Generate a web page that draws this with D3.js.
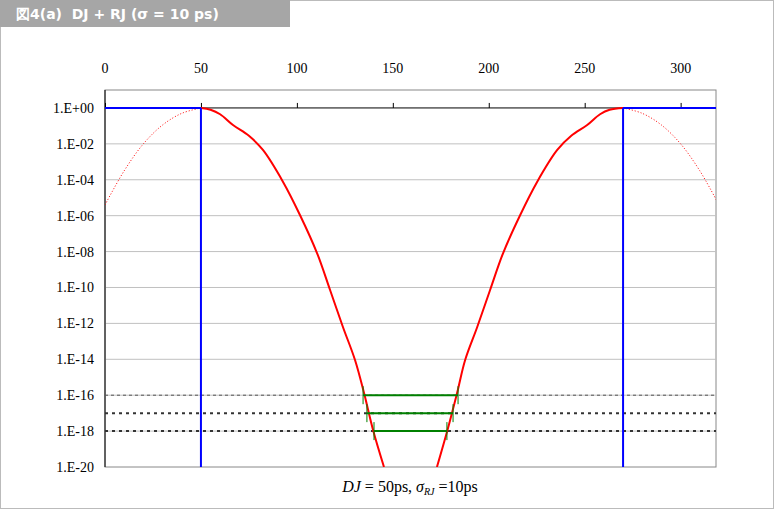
<!DOCTYPE html><html><head><meta charset="utf-8"><script src="https://cdn.jsdelivr.net/npm/d3@7"></script>
<style>body{margin:0;background:#fff}svg{display:block}</style></head><body><svg width="774" height="509"></svg>
<script>
const xTicks=[0,50,100,150,200,250,300];
const yTicks=[0,-2,-4,-6,-8,-10,-12,-14,-16,-18,-20];
const yLabels=["1.E+00","1.E-02","1.E-04","1.E-06","1.E-08","1.E-10","1.E-12","1.E-14","1.E-16","1.E-18","1.E-20"];
// log10(BER)
const leftDotX=[0,10,20,30,40,50], leftDotY=[-5.4,-3.5,-2.0,-0.95,-0.3,0];
const leftX=[50,55,60,66.7,75,82.3,92.8,101.6,110.5,117.3,124,130.3,135,139.7,145.4];
const leftY=[0,-0.1,-0.35,-0.95,-1.55,-2.34,-4.12,-5.96,-8.08,-10.14,-12.2,-14.04,-15.88,-17.94,-20];
const rightX=[173,178.5,183.5,187.7,194,200.7,207.5,216.4,225.2,235.7,243,251.3,258,263,270];
const rightY=[-20,-17.94,-15.88,-14.04,-12.2,-10.14,-8.08,-5.96,-4.12,-2.34,-1.55,-0.95,-0.35,-0.1,0];
const rightDotX=[270,280,290,300,310,320], rightDotY=[0,-0.3,-0.95,-2.0,-3.5,-5.4];
const levels=[-16,-17,-18];
const eyeL=[134.5,136.5,140.2], eyeR=[184,181.4,178.2];
const DJ=50, RJpos=270;

const SERIF="'Liberation Serif','Times New Roman',serif";
const svg=d3.select("svg");
svg.append("rect").attr("x",0.5).attr("y",0.5).attr("width",773).attr("height",508).attr("fill","none").attr("stroke","#bbb");
svg.append("rect").attr("x",0).attr("y",0).attr("width",290).attr("height",27).attr("fill","#a6a6a6");
svg.append("text").attr("x",16).attr("y",19).attr("fill","#fff").attr("font-family","DejaVu Sans").attr("font-weight","bold").attr("font-size",14).style("white-space","pre").text("図4(a)  DJ + RJ (σ = 10 ps)");
const L=105,R=716,T=90,B=467;
const x=d3.scaleLinear().domain([0,320]).range([L,L+614]);
const y=d3.scaleLinear().domain([1,-20]).range([T,B]);
svg.append("clipPath").attr("id","c").append("rect").attr("x",L).attr("y",T).attr("width",R-L).attr("height",B-T);
const g=svg.append("g");
g.append("rect").attr("x",L).attr("y",T).attr("width",R-L).attr("height",B-T).attr("fill","none").attr("stroke","#888");
yTicks.slice(1,-1).forEach(v=>g.append("line").attr("x1",L).attr("x2",R).attr("y1",y(v)).attr("y2",y(v)).attr("stroke","#c0c0c0"));
const xa=g.append("g").attr("transform",`translate(0,${y(0)})`).call(d3.axisTop(x).tickValues(xTicks).tickSize(5).tickFormat(""));
xa.select(".domain").attr("d",`M${L},0H${R}`);
xTicks.forEach(v=>g.append("text").attr("x",x(v)).attr("y",73).attr("text-anchor","middle").attr("font-family",SERIF).attr("font-size",14).text(v));
yTicks.forEach((v,i)=>g.append("text").attr("x",94).attr("y",y(v)+5).attr("text-anchor","end").attr("font-family",SERIF).attr("font-size",14).text(yLabels[i]));
g.append("line").attr("x1",L).attr("x2",L).attr("y1",T).attr("y2",B).attr("stroke","#000");
g.append("line").attr("x1",L).attr("x2",R).attr("y1",y(-16)).attr("y2",y(-16)).attr("stroke","#555").attr("stroke-dasharray","3,3");
[-17,-18].forEach(v=>g.append("line").attr("x1",L).attr("x2",R).attr("y1",y(v)).attr("y2",y(v)).attr("stroke","#333").attr("stroke-width",2).attr("stroke-dasharray","3,4"));
const line=d3.line().x(d=>x(d[0])).y(d=>y(d[1])).curve(d3.curveCatmullRom);
const z=(a,b)=>a.map((v,i)=>[v,b[i]]);
const cg=g.append("g").attr("clip-path","url(#c)");
cg.append("path").attr("d",line(z(leftDotX,leftDotY))).attr("fill","none").attr("stroke","red").attr("stroke-dasharray","1,2");
cg.append("path").attr("d",line(z(rightDotX,rightDotY))).attr("fill","none").attr("stroke","red").attr("stroke-dasharray","1,2");
cg.append("path").attr("d",line(z(leftX,leftY))).attr("fill","none").attr("stroke","red").attr("stroke-width",2);
cg.append("path").attr("d",line(z(rightX,rightY))).attr("fill","none").attr("stroke","red").attr("stroke-width",2);
levels.forEach((v,i)=>{
 g.append("line").attr("x1",x(eyeL[i])).attr("x2",x(eyeR[i])).attr("y1",y(v)).attr("y2",y(v)).attr("stroke","green").attr("stroke-width",2);
 [eyeL[i],eyeR[i]].forEach(e=>g.append("line").attr("x1",x(e)).attr("x2",x(e)).attr("y1",y(v)-9).attr("y2",y(v)+9).attr("stroke","green"));
});
g.append("line").attr("x1",L).attr("x2",x(DJ)).attr("y1",y(0)).attr("y2",y(0)).attr("stroke","blue").attr("stroke-width",2);
g.append("line").attr("x1",x(RJpos)).attr("x2",R).attr("y1",y(0)).attr("y2",y(0)).attr("stroke","blue").attr("stroke-width",2);
[DJ,RJpos].forEach(v=>g.append("line").attr("x1",x(v)).attr("x2",x(v)).attr("y1",y(0)).attr("y2",B).attr("stroke","blue").attr("stroke-width",2));
const t=svg.append("text").attr("x",410).attr("y",492).attr("text-anchor","middle").attr("font-family",SERIF).attr("font-size",16);
t.append("tspan").attr("font-style","italic").text("DJ");
t.append("tspan").text(" = 50ps, ");
t.append("tspan").attr("font-style","italic").text("σ");
t.append("tspan").attr("font-style","italic").attr("font-size",10).attr("dy",3).text("RJ");
t.append("tspan").attr("dy",-3).text(" =10ps");
</script></body></html>
